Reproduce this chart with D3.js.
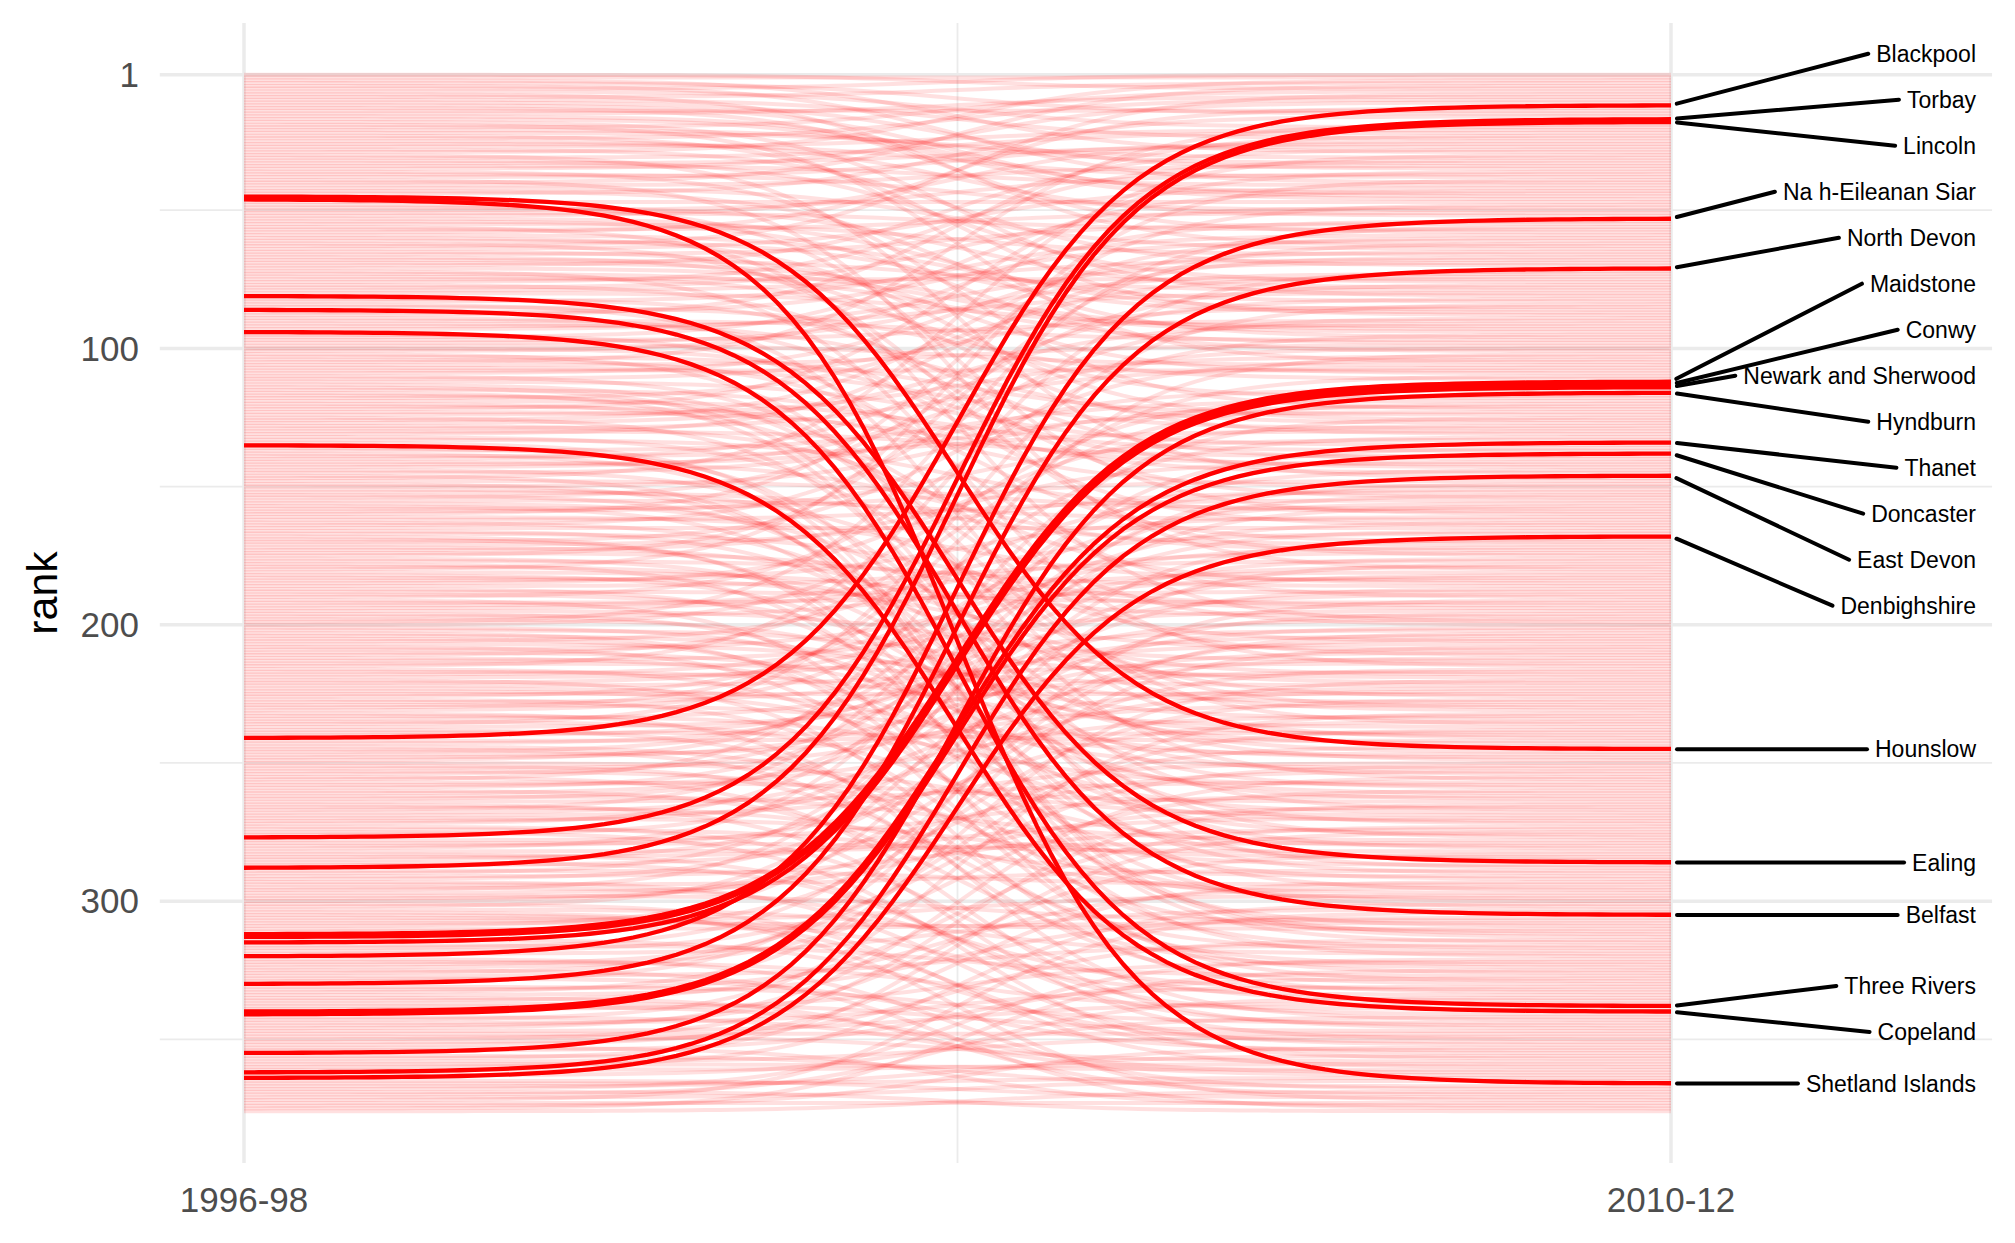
<!DOCTYPE html>
<html>
<head>
<meta charset="utf-8">
<script src="https://cdn.jsdelivr.net/npm/d3@7"></script>
<style>
  body { margin: 0; background: #fff; }
  text { font-family: "Liberation Sans", Arial, Helvetica, sans-serif; }
</style>
</head>
<body>
<div class="visHolder"></div>
<script>
// rank in 2010-12 of the authority ranked i (1..376) in 1996-98
const rank2010 = [
  6, 2, 29, 15, 40, 1, 20, 63, 4, 24,
  35, 45, 58, 14, 9, 44, 46, 81, 105, 7,
  33, 31, 88, 10, 52, 38, 21, 70, 3, 147,
  22, 76, 27, 41, 11, 122, 50, 26, 180, 5,
  34, 64, 96, 16, 245, 366, 47, 160, 78, 37,
  57, 25, 86, 101, 66, 199, 51, 13, 83, 126,
  87, 175, 8, 42, 109, 55, 131, 79, 93, 28,
  94, 215, 98, 118, 75, 32, 154, 49, 68, 92,
  286, 140, 59, 236, 111, 305, 61, 23, 164, 97,
  127, 80, 69, 338, 190, 43, 90, 73, 106, 143,
  54, 256, 124, 170, 19, 99, 129, 108, 65, 230,
  85, 135, 241, 277, 145, 288, 200, 74, 137, 211,
  150, 36, 142, 103, 267, 60, 91, 185, 107, 139,
  67, 226, 159, 312, 340, 281, 119, 313, 130, 82,
  173, 123, 100, 249, 115, 315, 30, 158, 296, 121,
  206, 171, 272, 77, 162, 231, 290, 148, 133, 48,
  184, 155, 246, 89, 165, 259, 193, 320, 302, 104,
  152, 218, 141, 194, 62, 254, 186, 309, 221, 39,
  197, 263, 209, 161, 128, 177, 276, 192, 243, 95,
  329, 188, 167, 174, 213, 285, 181, 240, 56, 117,
  261, 219, 317, 234, 292, 151, 228, 326, 183, 248,
  120, 268, 195, 222, 72, 300, 237, 172, 202, 333,
  179, 214, 252, 271, 225, 132, 311, 207, 247, 110,
  156, 343, 258, 204, 280, 84, 217, 323, 242, 198,
  12, 239, 189, 299, 330, 163, 229, 210, 144, 269,
  318, 223, 287, 176, 346, 102, 264, 233, 166, 324,
  201, 278, 182, 257, 350, 297, 125, 212, 250, 284,
  224, 153, 336, 291, 357, 187, 17, 262, 282, 235,
  136, 279, 345, 270, 196, 341, 253, 18, 294, 157,
  274, 205, 352, 289, 332, 149, 266, 307, 244, 216,
  360, 169, 319, 372, 355, 334, 298, 310, 178, 308,
  227, 112, 113, 351, 114, 327, 203, 251, 303, 53,
  368, 339, 238, 260, 375, 208, 316, 354, 191, 71,
  344, 295, 220, 306, 370, 273, 347, 362, 322, 134,
  138, 363, 232, 331, 283, 255, 337, 348, 358, 265,
  314, 293, 374, 328, 116, 367, 275, 349, 361, 301,
  359, 146, 342, 168, 371, 364, 356, 321, 376, 335,
  365, 304, 373, 353, 325, 369
];

// highlighted authorities and their 1996-98 rank
const hlNames = ["Blackpool", "Torbay", "Lincoln", "Na h-Eileanan Siar", "North Devon",
  "Maidstone", "Conwy", "Newark and Sherwood", "Hyndburn", "Thanet", "Doncaster",
  "East Devon", "Denbighshire", "Hounslow", "Ealing", "Belfast", "Three Rivers",
  "Copeland", "Shetland Islands"];
const hlRank1996 = [241, 277, 288, 320, 330, 312, 313, 315, 355, 340, 341, 362, 364,
  45, 81, 86, 94, 135, 46];

const periods = ["1996-98", "2010-12"];
const yTicks = [1, 100, 200, 300];
const yMinor = [50, 150, 250, 350];

document.addEventListener("DOMContentLoaded", function() {
  const w = 2015;
  const h = 1243;
  const n = rank2010.length;

  const xScale = d3.scaleLinear().domain([1, 2]).range([244, 1671]);
  const yScale = d3.scaleLinear().domain([1, n]).range([74.8, 1111.2]);

  // panel limits: 5% expansion on y, room for labels on the right
  const pad = 0.05 * (n - 1);
  const top = yScale(1 - pad), bottom = yScale(n + pad);
  const left = xScale(0.941), right = xScale(2.225);

  const svg = d3.select(".visHolder")
    .append("svg")
    .attr("width", w)
    .attr("height", h);

  // grid
  const grid = svg.append("g").attr("stroke", "#ebebeb").attr("fill", "none");
  grid.selectAll("line.ymin").data(yMinor).enter().append("line")
    .attr("x1", left).attr("x2", right)
    .attr("y1", d => yScale(d)).attr("y2", d => yScale(d))
    .attr("stroke-width", 1.8);
  grid.append("line")
    .attr("x1", xScale(1.5)).attr("x2", xScale(1.5))
    .attr("y1", top).attr("y2", bottom)
    .attr("stroke-width", 1.8);
  grid.selectAll("line.ymaj").data(yTicks).enter().append("line")
    .attr("x1", left).attr("x2", right)
    .attr("y1", d => yScale(d)).attr("y2", d => yScale(d))
    .attr("stroke-width", 3.5);
  grid.selectAll("line.xmaj").data([1, 2]).enter().append("line")
    .attr("x1", d => xScale(d)).attr("x2", d => xScale(d))
    .attr("y1", top).attr("y2", bottom)
    .attr("stroke-width", 3.5);

  // sigmoid like ggbump (smooth = 8)
  const smooth = 8, steps = 100;
  function sigmoid(y0, y1) {
    const pts = [];
    for (let i = 0; i < steps; i++) {
      const s = -smooth + 2 * smooth * i / (steps - 1);
      pts.push([1 + (s + smooth) / (2 * smooth), y0 + (y1 - y0) / (1 + Math.exp(-s))]);
    }
    return pts;
  }
  const line = d3.line().x(d => xScale(d[0])).y(d => yScale(d[1]));

  const all = rank2010.map((r, i) => ({ from: i + 1, to: r }));

  svg.append("g")
    .selectAll("path")
    .data(all)
    .enter()
    .append("path")
    .attr("d", d => line(sigmoid(d.from, d.to)))
    .attr("fill", "none")
    .attr("stroke", "#ff0000")
    .attr("stroke-opacity", 0.12)
    .attr("stroke-width", 4);

  const hl = hlNames.map((name, i) => ({
    name: name, from: hlRank1996[i], to: rank2010[hlRank1996[i] - 1]
  }));

  svg.append("g")
    .selectAll("path")
    .data(hl)
    .enter()
    .append("path")
    .attr("d", d => line(sigmoid(d.from, d.to)))
    .attr("fill", "none")
    .attr("stroke", "#ff0000")
    .attr("stroke-width", 4.3);

  // axis text
  svg.append("g")
    .selectAll("text")
    .data(yTicks)
    .enter()
    .append("text")
    .attr("x", 139)
    .attr("y", d => yScale(d))
    .attr("dy", "0.35em")
    .attr("text-anchor", "end")
    .attr("fill", "#4d4d4d")
    .style("font-size", "35px")
    .text(d => d);

  svg.append("g")
    .selectAll("text")
    .data(periods)
    .enter()
    .append("text")
    .attr("x", (d, i) => xScale(i + 1))
    .attr("y", 1212)
    .attr("text-anchor", "middle")
    .attr("fill", "#4d4d4d")
    .style("font-size", "35px")
    .text(d => d);

  svg.append("text")
    .attr("transform", "translate(57," + ((top + bottom) / 2) + ") rotate(-90)")
    .attr("text-anchor", "middle")
    .attr("fill", "#000")
    .style("font-size", "43px")
    .text("rank");

  // labels, pushed apart vertically (simple repel)
  const gap = 46;
  const sorted = hl.slice().sort((a, b) => a.to - b.to || a.from - b.from);
  const blocks = [];
  sorted.forEach(d => {
    blocks.push({ items: [d], pos: yScale(d.to) });
    while (blocks.length > 1) {
      const b = blocks[blocks.length - 1], a = blocks[blocks.length - 2];
      if (b.pos - (a.pos + (a.items.length - 1) * gap) >= gap) break;
      const items = a.items.concat(b.items);
      const pos = d3.mean(items, (v, k) => yScale(v.to) - k * gap);
      blocks.splice(-2, 2, { items: items, pos: pos });
    }
  });
  blocks.forEach(b => {
    b.pos = Math.max(b.pos, top + 20);
    b.items.forEach((d, k) => { d.ly = b.pos + k * gap; });
  });

  const textRight = 1976;
  const lab = svg.append("g");
  const texts = lab.selectAll("text")
    .data(sorted)
    .enter()
    .append("text")
    .attr("x", textRight)
    .attr("y", d => d.ly)
    .attr("dy", "0.35em")
    .attr("text-anchor", "end")
    .attr("fill", "#000")
    .style("font-size", "23px")
    .text(d => d.name);

  texts.each(function(d) { d.tl = textRight - this.getComputedTextLength(); });

  lab.selectAll("line")
    .data(sorted)
    .enter()
    .insert("line", "text")
    .each(function(d) {
      const x0 = xScale(2), y0 = yScale(d.to);
      const x1 = d.tl - 8, y1 = d.ly;
      const len = Math.hypot(x1 - x0, y1 - y0);
      d3.select(this)
        .attr("x1", x0 + (x1 - x0) / len * 6)
        .attr("y1", y0 + (y1 - y0) / len * 6)
        .attr("x2", x1)
        .attr("y2", y1);
    })
    .attr("stroke", "#000")
    .attr("stroke-width", 4)
    .attr("stroke-linecap", "round");
});
</script>
</body>
</html>
